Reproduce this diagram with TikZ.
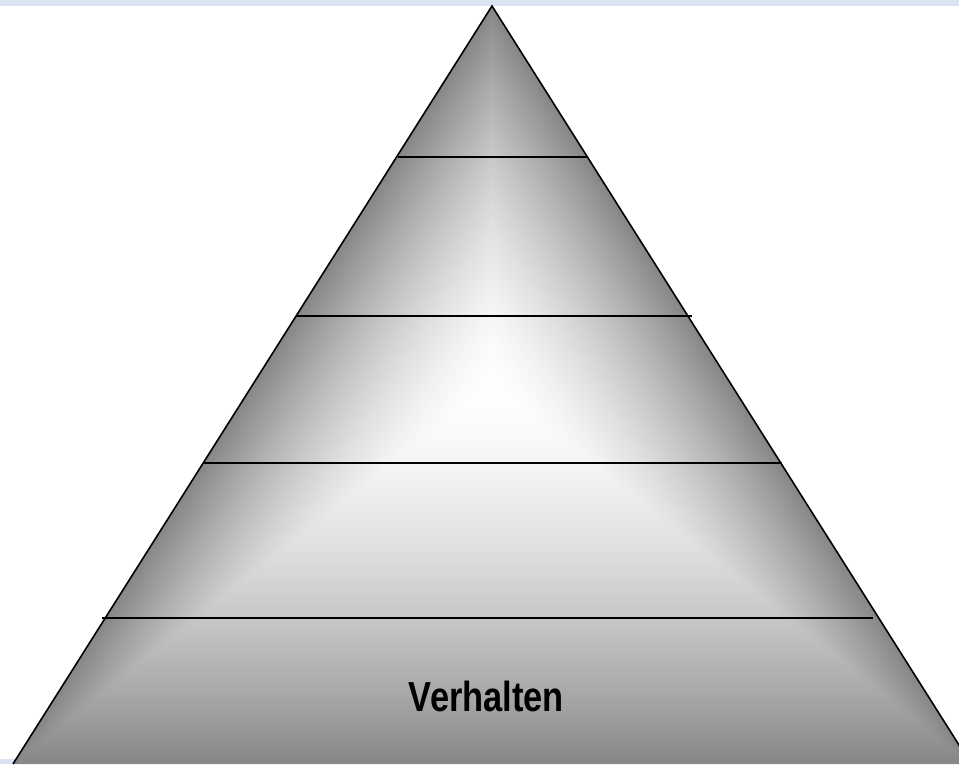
\documentclass[tikz,border=0pt]{standalone}
\usepackage{fontspec}
\setmainfont{Liberation Sans}
\usetikzlibrary{calc}
\definecolor{bgblue}{RGB}{219,227,242}
\begin{document}
\begin{tikzpicture}[x=1pt,y=-1pt, sepline/.style={line width=1.6pt, black}]
\useasboundingbox (0,0) rectangle (959,764);
\clip (0,0) rectangle (959,764);
\fill[white] (0,0) rectangle (959,764);
\fill[bgblue] (0,0) rectangle (959,6);
\fill[bgblue] (0,759) rectangle (959,764);
\coordinate (A) at (492,6);
\coordinate (B) at (13,764);
\coordinate (Cc) at (971,764);
\coordinate (M) at (492,385);
\foreach \i in {0,...,99}{
  \pgfmathsetmacro\myt{1-\i/100}
  \pgfmathtruncatemacro\myL{255-119*(\myt)^1.6}
  \definecolor{cc}{RGB}{\myL,\myL,\myL}
  \fill[cc] ($(M)!\myt!(A)$) -- ($(M)!\myt!(B)$) -- ($(M)!\myt!(Cc)$) -- cycle;
}
\draw[line width=1.6pt] (B) -- (A) -- (Cc);
\draw[sepline] (398,157) -- (587,157);
\draw[sepline] (296,316) -- (692,316);
\draw[sepline] (204,463) -- (782,463);
\draw[sepline] (102,618) -- (873,618);
\node[font=\fontsize{42}{50}\selectfont\bfseries, xscale=0.82, anchor=base, inner sep=0pt] (lbl) at (486.5,711) {Verhalten};
\end{tikzpicture}
\end{document}
